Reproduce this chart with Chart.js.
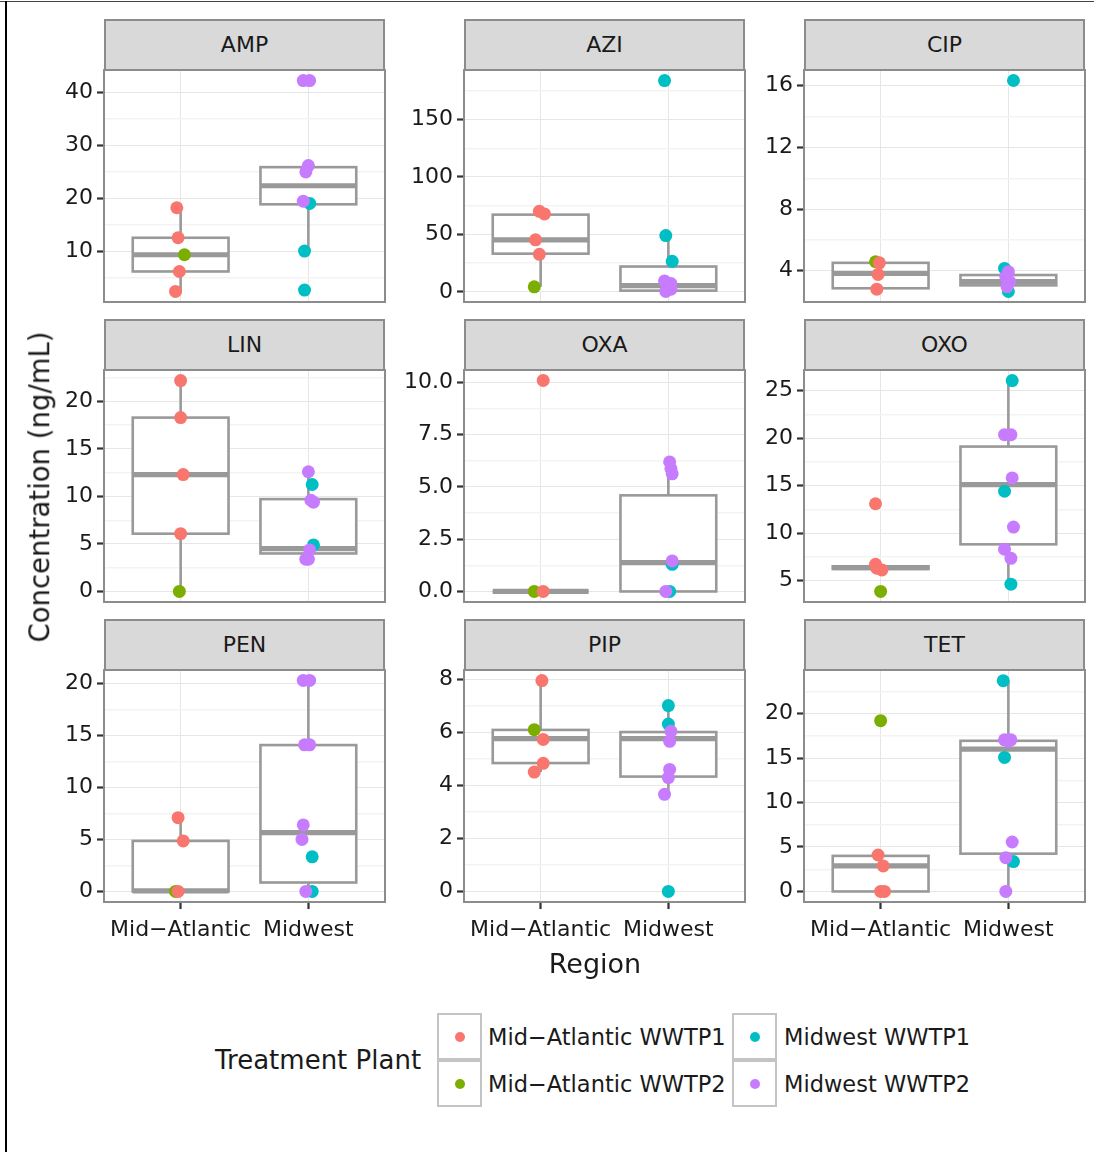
<!DOCTYPE html>
<html><head><meta charset="utf-8">
<script src="https://cdn.jsdelivr.net/npm/chart.js@4.4.1/dist/chart.umd.min.js"></script>
<style>
html,body{margin:0;padding:0;background:#fff;}
body{width:1094px;height:1152px;position:relative;overflow:hidden;font-family:"DejaVu Sans",sans-serif;color:#1a1a1a;}
.abs{position:absolute;}
.strip{position:absolute;background:#d9d9d9;border:2px solid #8c8c8c;box-sizing:border-box;text-align:center;font-size:22px;color:#1a1a1a;}
.key{position:absolute;width:45px;height:47px;border:2px solid #c4c4c4;box-sizing:border-box;background:#fff;}
.dot{position:absolute;left:50%;top:50%;width:10px;height:10px;margin:-5px 0 0 -5px;border-radius:50%;}
.lab{position:absolute;font-size:22.5px;white-space:nowrap;line-height:1;}
</style></head>
<body>
<div class="abs" style="left:0;top:1px;width:1094px;height:1px;background:#444"></div>
<div class="abs" style="left:5px;top:1px;width:2px;height:1151px;background:#000"></div>
<script>
// ---------- data ----------
const drugs = ['AMP','AZI','CIP','LIN','OXA','OXO','PEN','PIP','TET'];
const regions = ['Mid\u2212Atlantic','Midwest'];
const plants = ['Mid\u2212Atlantic WWTP1','Mid\u2212Atlantic WWTP2','Midwest WWTP1','Midwest WWTP2'];
const plantRegion = [1, 1, 2, 2];

// measured concentrations per plant, one list per drug (order of drugs)
const maWWTP1 = [[18.25,12.6,6.25,2.5],[70.1,67.8,45.3,32.6],[4.51,3.76,2.8],[22.2,18.3,12.3,6.08],[10.1,0],[13.08,6.71,6.29,6.12],[7.1,4.86,0],[7.95,5.73,4.83,4.5],[4.1,2.87,0,0]];
const maWWTP2 = [[9.4],[4.3],[4.58],[0],[0],[3.85],[0],[6.1],[19.2]];
const mwWWTP1 = [[19.06,10.1,2.75],[184,49.0,26.5],[16.34,4.15,2.65],[11.26,4.9],[1.3,0],[26.05,14.4,4.62],[3.33,0],[7.01,6.31,0],[23.7,15.07,3.36]];
const mwWWTP2 = [[42.2,42.2,26.2,25.0,19.5],[9.5,7.2,5.2,2.3,0.3],[3.94,3.6,3.3,2.97],[12.6,9.6,9.4,4.37,3.4,3.4],[6.2,5.88,5.63,1.46,0],[20.35,20.35,15.8,10.63,8.29,7.34],[20.3,20.3,14.1,14.1,6.4,5.0,0],[6.04,5.66,4.6,4.29,3.66],[17.05,17.05,16.9,5.56,3.8,0]];

// horizontal jitter of each point (category units)
const maWWTP1Jit = [[-0.03,-0.02,-0.01,-0.04],[-0.01,0.03,-0.04,-0.01],[-0.01,-0.02,-0.03],[0,0,0.02,0],[0.02,0.02],[-0.04,-0.04,-0.03,0.01],[-0.02,0.02,-0.02],[0.01,0.02,0.02,-0.05],[-0.02,0.02,0,0.03]];
const maWWTP2Jit = [[0.03],[-0.05],[-0.04],[-0.01],[-0.05],[0],[-0.04],[-0.05],[0]];
const mwWWTP1Jit = [[0.01,-0.03,-0.03],[-0.03,-0.02,0.03],[0.04,-0.03,0],[0.03,0.04],[0.03,0.01],[0.03,-0.03,0.02],[0.03,0.03],[0,0,0],[-0.04,-0.03,0.04]];
const mwWWTP2Jit = [[-0.04,0.01,0,-0.02,-0.04],[-0.03,0.02,0,0.02,-0.02],[0,-0.02,0.01,-0.01],[0,0.02,0.04,0.01,-0.02,0],[0.01,0.02,0.03,0.03,-0.02],[-0.03,0.02,0.03,0.04,-0.03,0.02],[-0.04,0.01,-0.03,0.01,-0.04,-0.05,-0.02],[0.02,0.01,0.01,0,-0.03],[-0.03,0.02,0,0.03,-0.02,-0.02]];

// box plot statistics per drug: [Mid-Atlantic, Midwest]
const boxLow  = [[2.5,10.1],[4.3,0.3],[2.8,2.65],[0,3.4],[0,0],[6.12,4.62],[0,0],[4.5,3.66],[0,0]];
const boxQ1   = [[6.25,18.9],[33.2,1.0],[2.86,3.05],[6.08,4.0],[0,0],[6.22,8.81],[0,0.86],[4.84,4.33],[0,4.25]];
const boxMed  = [[9.4,22.4],[45.3,5.4],[3.83,3.3],[12.3,4.5],[0,1.38],[6.36,15.1],[0.05,5.66],[5.76,5.76],[2.87,16.0]];
const boxQ3   = [[12.6,25.9],[67.2,22.0],[4.51,3.72],[18.3,9.72],[0,4.6],[6.5,19.1],[4.86,14.08],[6.09,6.01],[4.0,16.94]];
const boxHigh = [[18.25,26.2],[70.1,49.0],[4.58,4.15],[22.2,12.6],[0,6.2],[6.71,26.05],[7.1,20.3],[7.95,7.01],[4.1,23.7]];

// y axes
const yMin = [0.5,-8.9,1.97,-1.11,-0.505,2.74,-1.015,-0.4,-1.185];
const yMax = [44.2,193.2,17.02,23.31,10.6,27.16,21.3,8.35,24.9];
const yTicks = [[10,20,30,40],[0,50,100,150],[4,8,12,16],[0,5,10,15,20],[0,2.5,5,7.5,10],[5,10,15,20,25],[0,5,10,15,20],[0,2,4,6,8],[0,5,10,15,20]];
const yTickLabels = [['10','20','30','40'],['0','50','100','150'],['4','8','12','16'],['0','5','10','15','20'],['0.0','2.5','5.0','7.5','10.0'],['5','10','15','20','25'],['0','5','10','15','20'],['0','2','4','6','8'],['0','5','10','15','20']];
const xTicks = [1, 2];

// ---------- styles ----------
const plantColors = ['#F8766D','#7CAE00','#00BFC4','#C77CFF'];
const plantOrder = [2, 3, 1, 0]; // drawing priority (lower = on top)
const boxColor = '#999999';
const FONT = 'DejaVu Sans';
const colLeft = [104, 464, 804];
const stripTop = [19, 319, 619];
const PW = 281, PH = 232, SH = 51, PAD = 22, YW = 100, XH = 46;

const valueSets = [maWWTP1, maWWTP2, mwWWTP1, mwWWTP2];
const jitterSets = [maWWTP1Jit, maWWTP2Jit, mwWWTP1Jit, mwWWTP2Jit];

const boxPlugin = {
  id: 'boxes',
  beforeDatasetsDraw(chart) {
    const i = chart.options.plugins.boxes.index;
    const xs = chart.scales.x, ys = chart.scales.y, ctx = chart.ctx, a = chart.chartArea;
    ctx.save();
    ctx.beginPath(); ctx.rect(a.left, a.top, a.right - a.left, a.bottom - a.top); ctx.clip();
    ctx.strokeStyle = boxColor; ctx.lineCap = 'butt'; ctx.lineJoin = 'miter';
    for (let r = 0; r < 2; r++) {
      const cx = xs.getPixelForValue(xTicks[r]);
      const x0 = xs.getPixelForValue(xTicks[r] - 0.375), x1 = xs.getPixelForValue(xTicks[r] + 0.375);
      const yl = ys.getPixelForValue(boxLow[i][r]), y1 = ys.getPixelForValue(boxQ1[i][r]);
      const ym = ys.getPixelForValue(boxMed[i][r]), y3 = ys.getPixelForValue(boxQ3[i][r]);
      const yh = ys.getPixelForValue(boxHigh[i][r]);
      ctx.lineWidth = 2.6;
      ctx.beginPath(); ctx.moveTo(cx, yh); ctx.lineTo(cx, y3); ctx.moveTo(cx, y1); ctx.lineTo(cx, yl); ctx.stroke();
      ctx.fillStyle = '#fff';
      ctx.fillRect(x0, y3, x1 - x0, y1 - y3);
      ctx.strokeRect(x0, y3, x1 - x0, y1 - y3);
      ctx.lineWidth = 5.2;
      ctx.beginPath(); ctx.moveTo(x0, ym); ctx.lineTo(x1, ym); ctx.stroke();
    }
    ctx.restore();
  },
  afterDraw(chart) {
    const a = chart.chartArea, ctx = chart.ctx;
    ctx.save();
    ctx.strokeStyle = '#8c8c8c'; ctx.lineWidth = 2;
    ctx.strokeRect(a.left, a.top, a.right - a.left, a.bottom - a.top);
    ctx.restore();
  }
};

function near(list, v) { return list.findIndex(t => Math.abs(t - v) < 1e-6); }

drugs.forEach((drug, i) => {
  const row = Math.floor(i / 3), col = i % 3;
  const pl = colLeft[col], pt = stripTop[row] + SH;
  // strip
  const s = document.createElement('div');
  s.className = 'strip';
  s.style.left = pl + 'px'; s.style.top = stripTop[row] + 'px';
  s.style.width = PW + 'px'; s.style.height = (SH + 1) + 'px'; s.style.lineHeight = (SH - 3) + 'px';
  s.textContent = drug;
  document.body.appendChild(s);
  // canvas
  const bottomRow = row === 2;
  const cw = YW + PW + PAD, ch = PAD + PH + (bottomRow ? XH : PAD);
  const c = document.createElement('canvas');
  c.width = cw; c.height = ch;
  c.style.position = 'absolute'; c.style.left = (pl - YW) + 'px'; c.style.top = (pt - PAD) + 'px';
  c.style.width = cw + 'px'; c.style.height = ch + 'px';
  document.body.appendChild(c);

  const step = yTicks[i][1] - yTicks[i][0];
  const minors = [];
  for (let k = -1; k < yTicks[i].length; k++) {
    const v = (k < 0 ? yTicks[i][0] - step / 2 : yTicks[i][k] + step / 2);
    if (v >= yMin[i] && v <= yMax[i]) minors.push(v);
  }
  const allTicks = yTicks[i].concat(minors).sort((a, b) => a - b);

  const datasets = plants.map((p, k) => ({
    label: p,
    order: plantOrder[k],
    data: valueSets[k][i].map((v, j) => ({ x: plantRegion[k] + jitterSets[k][i][j], y: v })),
    backgroundColor: plantColors[k],
    borderWidth: 0,
    pointRadius: 6.5,
    pointHoverRadius: 6.5
  }));

  new Chart(c, {
    type: 'scatter',
    data: { datasets },
    options: {
      responsive: false, animation: false, devicePixelRatio: 1,
      layout: { padding: { top: PAD, right: PAD, bottom: bottomRow ? 0 : PAD, left: 0 } },
      plugins: { legend: { display: false }, tooltip: { enabled: false }, boxes: { index: i } },
      scales: {
        x: {
          type: 'linear', min: 0.4, max: 2.6,
          afterBuildTicks: sc => { sc.ticks = xTicks.map(v => ({ value: v })); },
          afterFit: sc => { sc.height = bottomRow ? XH : 0; },
          border: { display: false },
          grid: { color: '#e6e6e6', lineWidth: 1, drawTicks: bottomRow, tickLength: 7, tickColor: '#333', tickWidth: 2.2 },
          ticks: { display: bottomRow, autoSkip: false, maxRotation: 0, padding: 8,
                   font: { family: FONT, size: 22 }, color: '#1a1a1a',
                   callback: v => regions[Math.round(v) - 1] }
        },
        y: {
          type: 'linear', min: yMin[i], max: yMax[i],
          afterBuildTicks: sc => { sc.ticks = allTicks.map(v => ({ value: v })); },
          afterFit: sc => { sc.width = YW; },
          border: { display: false },
          grid: {
            color: ctx => near(yTicks[i], ctx.tick.value) >= 0 ? '#e6e6e6' : '#f3f3f3',
            lineWidth: ctx => near(yTicks[i], ctx.tick.value) >= 0 ? 1 : 1.4,
            tickLength: 7,
            tickColor: ctx => near(yTicks[i], ctx.tick.value) >= 0 ? '#333' : 'rgba(0,0,0,0)',
            tickWidth: 2.2
          },
          ticks: { autoSkip: false, padding: 4, font: { family: FONT, size: 22 }, color: '#1a1a1a',
                   callback: v => { const k = near(yTicks[i], v); return k >= 0 ? yTickLabels[i][k] : ''; } }
        }
      }
    },
    plugins: [boxPlugin]
  });
});

// axis titles
const yt = document.createElement('div');
yt.className = 'abs';
yt.style.cssText = 'left:40px;top:487px;font-size:27.5px;white-space:nowrap;transform:translate(-50%,-50%) rotate(-90deg);line-height:1;';
yt.textContent = 'Concentration (ng/mL)';
document.body.appendChild(yt);
const xt = document.createElement('div');
xt.className = 'abs';
xt.style.cssText = 'left:595px;top:963px;font-size:27px;white-space:nowrap;transform:translate(-50%,-50%);line-height:1;';
xt.textContent = 'Region';
document.body.appendChild(xt);

// legend
const lt = document.createElement('div');
lt.className = 'abs';
lt.style.cssText = 'left:215px;top:1060px;font-size:26px;white-space:nowrap;transform:translateY(-50%);line-height:1;';
lt.textContent = 'Treatment Plant';
document.body.appendChild(lt);
const keyLeft = [437, 437, 732, 732], keyTop = [1013, 1060, 1013, 1060], labLeft = [488, 488, 784, 784];
plants.forEach((p, k) => {
  const b = document.createElement('div');
  b.className = 'key'; b.style.left = keyLeft[k] + 'px'; b.style.top = keyTop[k] + 'px';
  const d = document.createElement('div'); d.className = 'dot'; d.style.background = plantColors[k];
  b.appendChild(d); document.body.appendChild(b);
  const l = document.createElement('div');
  l.className = 'lab'; l.style.left = labLeft[k] + 'px'; l.style.top = (keyTop[k] + 24) + 'px';
  l.style.transform = 'translateY(-50%)';
  l.textContent = p;
  document.body.appendChild(l);
});
</script>
</body></html>
